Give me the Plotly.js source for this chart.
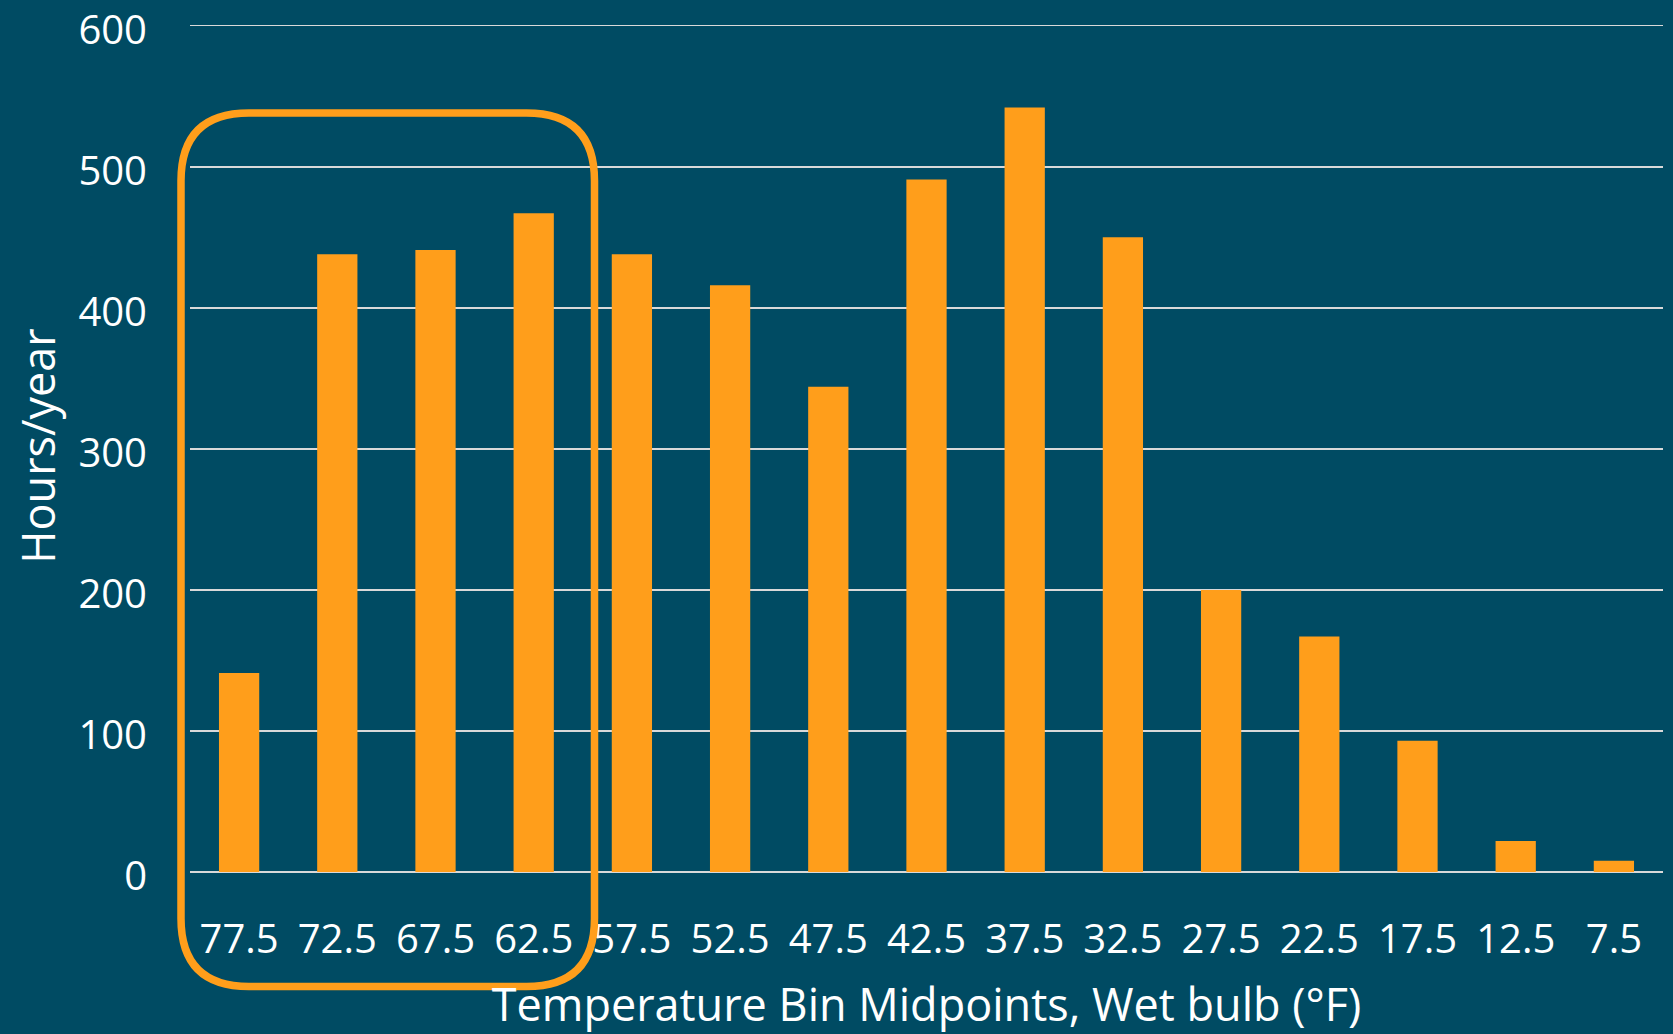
<!DOCTYPE html>
<html>
<head>
<meta charset="utf-8">
<script src="https://cdn.plot.ly/plotly-3.0.1.min.js"></script>
<style>
  html, body { margin: 0; padding: 0; background: #004B63; }
  #chart { width: 1673px; height: 1034px; }
</style>
</head>
<body>
<div id="chart"></div>
<script>
// ---- data ----
const binMidpoints = ["77.5", "72.5", "67.5", "62.5", "57.5", "52.5", "47.5", "42.5", "37.5", "32.5", "27.5", "22.5", "17.5", "12.5", "7.5"];
const hoursPerYear = [141, 438, 441, 467, 438, 416, 344, 491, 542, 450, 200, 167, 93, 22, 8];
const yTickValues = [0, 100, 200, 300, 400, 500, 600];
const xTitle = "Temperature Bin Midpoints, Wet bulb (°F)";
const yTitle = "Hours/year";

// ---- style ----
const BG = "#004B63";
const BAR = "#FF9E1B";
const GRID = "#D9D9D9";
const FONT = "Open Sans, Noto Sans, sans-serif";

const W = 1673, H = 1034;
const M = { l: 190, r: 10, t: 20, b: 162 };
const plotW = W - M.l - M.r, plotH = H - M.t - M.b;

// rounded highlight box around the first four bins (pixel geometry -> paper)
function px2paperX(px) { return (px - M.l) / plotW; }
function px2paperY(py) { return (H - M.b - py) / plotH; }
function pathStr(x0, y0, x1, y1, r) {
  const X = px2paperX, Y = px2paperY;
  const p = (a, b) => X(a).toFixed(5) + "," + Y(b).toFixed(5);
  return "M" + p(x0 + r, y0) +
    " L" + p(x1 - r, y0) +
    " Q" + p(x1, y0) + " " + p(x1, y0 + r) +
    " L" + p(x1, y1 - r) +
    " Q" + p(x1, y1) + " " + p(x1 - r, y1) +
    " L" + p(x0 + r, y1) +
    " Q" + p(x0, y1) + " " + p(x0, y1 - r) +
    " L" + p(x0, y0 + r) +
    " Q" + p(x0, y0) + " " + p(x0 + r, y0) + " Z";
}

const trace = {
  type: "bar",
  x: binMidpoints,
  y: hoursPerYear,
  marker: { color: BAR, line: { width: 0 } },
  hoverinfo: "x+y"
};

const layout = {
  width: W, height: H, autosize: false,
  margin: M,
  paper_bgcolor: BG,
  plot_bgcolor: BG,
  bargap: 0.59,
  showlegend: false,
  font: { family: FONT, color: "#FFFFFF", size: 40 },
  xaxis: {
    type: "category",
    showgrid: false,
    showline: false,
    ticks: "",
    ticklabelstandoff: 40,
    tickfont: { family: FONT, size: 40, color: "#FFFFFF" },
    title: { text: xTitle, font: { family: FONT, size: 45, color: "#FFFFFF" }, standoff: 30 },
    automargin: false
  },
  yaxis: {
    range: [0, 604],
    tickvals: yTickValues,
    showgrid: true,
    gridcolor: GRID,
    gridwidth: 1.7,
    zeroline: true,
    zerolinecolor: GRID,
    zerolinewidth: 1.7,
    showline: false,
    ticks: "",
    ticklabelstandoff: 42,
    ticklabelshift: 4,
    ticklabeloverflow: "allow",
    tickfont: { family: FONT, size: 40, color: "#FFFFFF" },
    title: { text: yTitle, font: { family: FONT, size: 45, color: "#FFFFFF" }, standoff: 8 },
    automargin: false
  },
  shapes: [{
    type: "path",
    xref: "paper", yref: "paper",
    path: pathStr(181, 113, 594.5, 986.5, 68),
    line: { color: BAR, width: 7.5 },
    fillcolor: "rgba(0,0,0,0)",
    layer: "above"
  }]
};

Plotly.newPlot("chart", [trace], layout, { staticPlot: true, displayModeBar: false });
</script>
</body>
</html>
